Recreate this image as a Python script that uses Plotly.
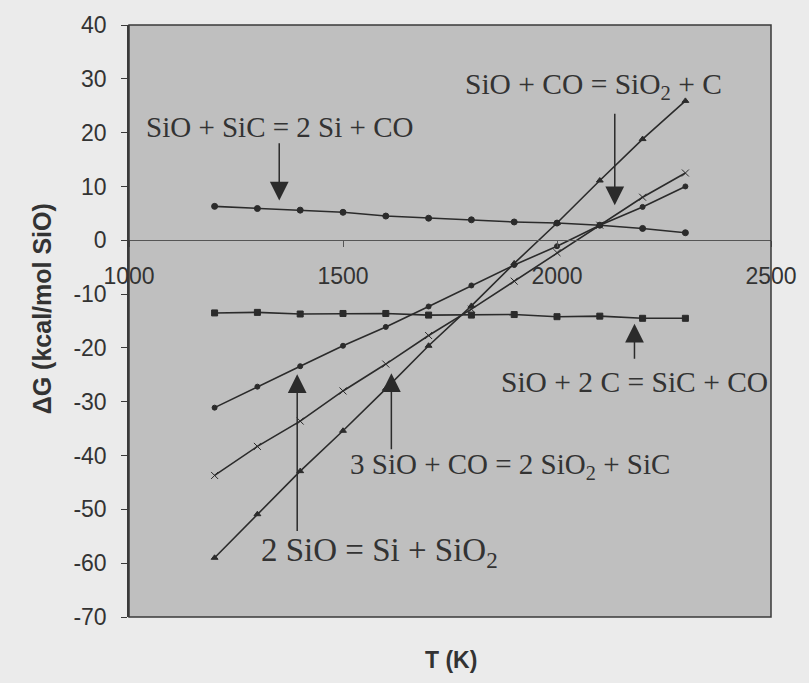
import plotly.graph_objects as go

# ---- data ----
T = [1200, 1300, 1400, 1500, 1600, 1700, 1800, 1900, 2000, 2100, 2200, 2300]
dG_SiO_SiC = [6.3, 5.9, 5.6, 5.2, 4.5, 4.1, 3.8, 3.4, 3.2, 2.8, 2.2, 1.4]
dG_SiO_2C = [-13.5, -13.4, -13.7, -13.6, -13.6, -13.9, -13.9, -13.8, -14.2, -14.1, -14.5, -14.5]
dG_SiO_CO = [-59.0, -50.9, -42.9, -35.4, -27.6, -19.6, -12.2, -4.3, 3.2, 11.1, 18.8, 25.9]
dG_3SiO_CO = [-43.7, -38.3, -33.6, -28.0, -23.0, -17.7, -12.8, -7.6, -2.3, 2.8, 8.0, 12.5]
dG_2SiO = [-31.1, -27.2, -23.4, -19.6, -16.1, -12.3, -8.4, -4.6, -1.1, 2.8, 6.2, 10.0]

x_ticks = [1000, 1500, 2000, 2500]
y_ticks = [40, 30, 20, 10, 0, -10, -20, -30, -40, -50, -60, -70]

# labels: (text, label T, label dG, arrow tip T, tip dG, arrow tail T, tail dG, font size)
labels = [
    ("SiO + SiC = 2 Si + CO", 1351, 21.0, 1351, 7.4, 1351, 18.3, 29),
    ("SiO + CO = SiO<sub>2</sub> + C", 2086, 28.7, 2135, 6.5, 2135, 23.8, 29.5),
    ("SiO + 2 C = SiC + CO", 2180, -26.3, 2181, -15.5, 2181, -22.3, 29.5),
    ("3 SiO + CO = 2 SiO<sub>2</sub> + SiC", 1891, -42.0, 1613, -24.7, 1613, -39.1, 29),
    ("2 SiO = Si + SiO<sub>2</sub>", 1586, -58.1, 1393, -24.9, 1393, -54.3, 33),
]

LINE = "#2b2b2b"
TXT = "#333333"

fig = go.Figure()


def add_series(y, symbol, size, name):
    fig.add_trace(go.Scatter(
        x=T, y=y, mode="lines+markers", name=name,
        line=dict(color=LINE, width=1.6),
        marker=dict(symbol=symbol, size=size, color=LINE,
                    line=dict(color=LINE, width=1)),
        showlegend=False,
    ))


add_series(dG_SiO_SiC, "circle", 6, "SiO + SiC = 2 Si + CO")
add_series(dG_SiO_2C, "square", 6, "SiO + 2 C = SiC + CO")
add_series(dG_SiO_CO, "triangle-up", 6, "SiO + CO = SiO2 + C")
add_series(dG_3SiO_CO, "x-thin", 7, "3 SiO + CO = 2 SiO2 + SiC")
add_series(dG_2SiO, "circle", 5, "2 SiO = Si + SiO2")

annotations = []
for text, lx, ly, tx, ty, ax, ay, fs in labels:
    annotations.append(dict(
        x=tx, y=ty, ax=ax, ay=ay, xref="x", yref="y", axref="x", ayref="y",
        text="", showarrow=True, arrowhead=2, arrowsize=2.5, arrowwidth=1.5,
        arrowcolor=LINE, standoff=0,
    ))
    annotations.append(dict(
        x=lx, y=ly, xref="x", yref="y", text=text, showarrow=False,
        xanchor="center", yanchor="middle",
        font=dict(family="Liberation Serif", size=fs, color=TXT),
    ))

annotations.append(dict(
    x=-0.136, y=0.521, xref="paper", yref="paper", text="<b>ΔG (kcal/mol SiO)</b>",
    textangle=-90, showarrow=False, xanchor="center", yanchor="middle",
    font=dict(family="Liberation Sans", size=25, color=TXT),
))
annotations.append(dict(
    x=0.502, y=-0.072, xref="paper", yref="paper", text="<b>T (K)</b>",
    showarrow=False, xanchor="center", yanchor="middle",
    font=dict(family="Liberation Sans", size=23, color=TXT),
))

fig.update_layout(
    width=809, height=683,
    margin=dict(l=129, r=27, t=20, b=66),
    paper_bgcolor="#ebebeb",
    plot_bgcolor="#bfbfbf",
    annotations=annotations,
    shapes=[dict(type="rect", xref="paper", yref="paper", x0=0, x1=1, y0=0, y1=1,
                 line=dict(color="#3a3a3a", width=1.5))],
    xaxis=dict(
        range=[1000, 2500], tickvals=x_ticks, ticktext=[str(v) for v in x_ticks],
        anchor="free", position=70 / 110,
        showline=True, linecolor="#555555", linewidth=1,
        ticks="outside", ticklen=6, tickcolor="#555555",
        showgrid=False, zeroline=False, ticklabelstandoff=9,
        tickfont=dict(family="Liberation Sans", size=23, color=TXT),
    ),
    yaxis=dict(
        range=[-70, 40], tickvals=y_ticks, ticktext=[str(v) for v in y_ticks],
        showline=True, linecolor="#3a3a3a", linewidth=1.5,
        ticks="outside", ticklen=6, tickcolor="#3a3a3a",
        showgrid=False, zeroline=False, ticklabelstandoff=10,
        tickfont=dict(family="Liberation Sans", size=23, color=TXT),
    ),
)

fig.write_html("out.html")
